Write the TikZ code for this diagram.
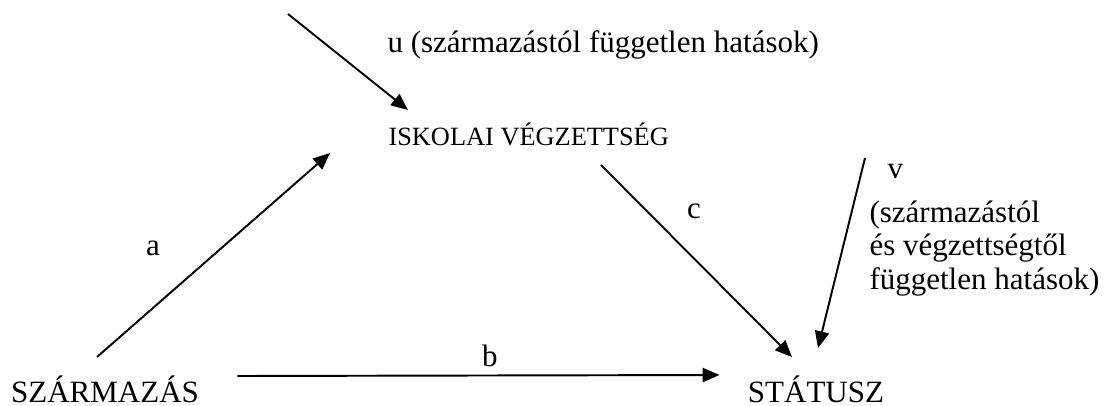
\documentclass[tikz,border=0pt]{standalone}
\usepackage{fontspec}
\setmainfont{Liberation Serif}
\usetikzlibrary{arrows.meta,calc}

\begin{document}
\begin{tikzpicture}[x=0.387pt,y=-0.387pt,
    freccia/.style={line width=0.75pt,-{Triangle[length=6.5pt,width=5.5pt]}},
    testo/.style={inner sep=0pt,font=\fontsize{12}{13}\selectfont},
    piccolo/.style={inner sep=0pt,font=\fontsize{10.2}{12}\selectfont}]

            % Cornice
            \useasboundingbox (0,0) rectangle (1115,405);

            % Nodi
            \node[testo,anchor=base] (szarm) at (105,402) {SZÁRMAZÁS};
            \node[testo,anchor=base] (statusz) at (816,402) {STÁTUSZ};
            \node[piccolo,anchor=base west] (iskola) at (388,145) {ISKOLAI VÉGZETTSÉG};

            % Etichette
            \node[testo,anchor=base west] (utext) at (387,52) {u (származástól független hatások)};
            \node[testo,anchor=base] (la) at (153,255) {a};
            \node[testo,anchor=base] (lb) at (490,366) {b};
            \node[testo,anchor=base] (lc) at (694,218) {c};
            \node[testo,anchor=base west] (vtext) at (887,178) {v};
            \node[testo,anchor=north west,align=left] (vhat) at (869,200)
                {(származástól\\ és végzettségtől\\független hatások)};

            % Frecce
            \coordinate (ustart) at (288,14);
            \coordinate (vstart) at (865,158);
            \draw[freccia] (ustart) -- ($(iskola.base west)+(20,-35)$);
            \draw[freccia] ($(szarm.base)+(-8,-45)$) -- ($(iskola.base west)+(-58,8)$);
            \draw[freccia] ($(szarm.base east)+(38,-26)$) -- ($(statusz.base west)+(-28,-27)$);
            \draw[freccia] ($(iskola.base west)+(213,20)$) -- ($(statusz.base)+(-24,-45)$);
            \draw[freccia] (vstart) -- ($(statusz.base)+(2,-54)$);

        \end{tikzpicture}
\end{document}
